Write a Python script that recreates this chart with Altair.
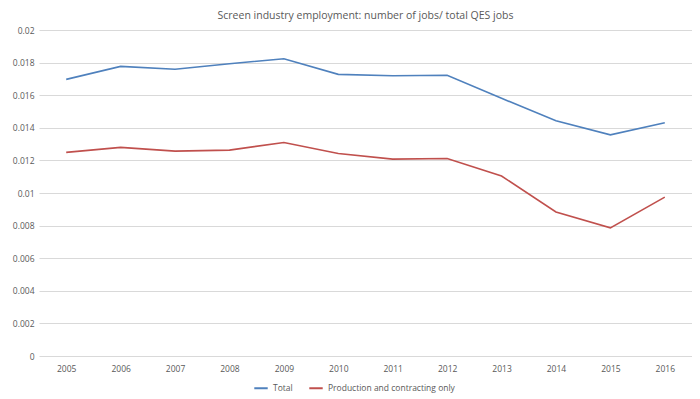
import altair as alt
import pandas as pd

years = [str(y) for y in range(2005, 2017)]
total = [0.01697, 0.01777, 0.01759, 0.01793, 0.01824, 0.01728, 0.01719, 0.01722,
         0.01581, 0.01443, 0.01357, 0.01431]
production = [0.01249, 0.01280, 0.01257, 0.01263, 0.01310, 0.01242, 0.01208, 0.01212,
              0.01104, 0.00884, 0.00786, 0.00975]
series_names = ["Total", "Production and contracting only"]
colors = ["#4f81bd", "#c0504d"]

rows = []
for i, y in enumerate(years):
    rows.append({"year": y, "series": series_names[0], "value": total[i]})
    rows.append({"year": y, "series": series_names[1], "value": production[i]})
df = pd.DataFrame(rows)

font = "Open Sans"
gray = "#595959"

chart = alt.Chart(df).mark_line(strokeWidth=1.6).encode(
    x=alt.X("year:O", sort=years, title=None,
            scale=alt.Scale(type="point", padding=0.5),
            axis=alt.Axis(labelAngle=0, ticks=False, domain=False, labelPadding=8,
                          labelFontSize=8.5, labelColor=gray, labelFont=font)),
    y=alt.Y("value:Q", title=None,
            scale=alt.Scale(domain=[0, 0.02], nice=False),
            axis=alt.Axis(values=[i * 0.002 for i in range(11)], format="~g",
                          ticks=False, domain=False, labelPadding=5,
                          labelFontSize=8.5, labelColor=gray, labelFont=font,
                          grid=True, gridColor="#d9d9d9", gridWidth=1)),
    color=alt.Color("series:N", sort=series_names,
                    scale=alt.Scale(domain=series_names, range=colors),
                    legend=alt.Legend(orient="none", legendX=214, legendY=350,
                                      direction="horizontal", title=None,
                                      symbolType="stroke", symbolStrokeWidth=2,
                                      symbolSize=180, labelFontSize=8.5, labelColor=gray,
                                      labelFont=font, columnPadding=12)),
).properties(
    width=653,
    height=326,
    title=alt.TitleParams("Screen industry employment: number of jobs/ total QES jobs",
                          fontSize=10.5, color=gray, font=font, fontWeight="normal",
                          anchor="middle", offset=5),
    autosize=alt.AutoSizeParams(type="none"),
    padding={"left": 31, "top": 22, "right": 0, "bottom": 43},
).configure_view(stroke=None)

chart.save("out.html", embed_options={"renderer": "svg", "actions": False})
